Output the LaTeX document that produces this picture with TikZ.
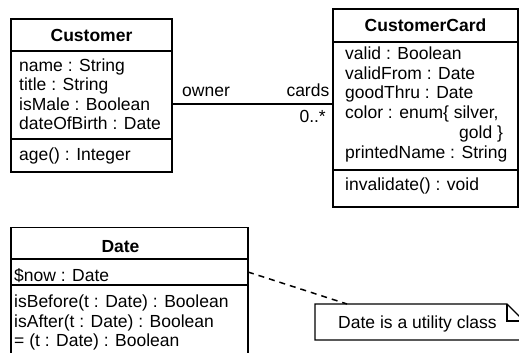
\documentclass[tikz,border=0pt]{standalone}
\usepackage{fontspec}
\setmainfont{Liberation Sans}
\begin{document}
\begin{tikzpicture}[x=1pt,y=-1pt]
\tikzset{
  box/.style={draw, line width=1.5pt, inner sep=0pt, outer sep=0pt, anchor=north west},
  ctitle/.style={font=\fontsize{17.5}{19.6}\selectfont\bfseries, inner sep=0pt, anchor=base},
  txt/.style={font=\fontsize{17.5}{19.6}\selectfont, inner sep=0pt, anchor=base west},
  txtr/.style={font=\fontsize{17.5}{19.6}\selectfont, inner sep=0pt, anchor=base east},
  assoc/.style={line width=1.1pt},
  noteline/.style={line width=1.4pt, line join=miter},
  anchorline/.style={line width=1.5pt, dash pattern=on 6pt off 5pt},
}
\useasboundingbox (0,0) rectangle (519,353);
\clip (0,0) rectangle (519,353);
\fill[white] (0,0) rectangle (519,353);

% Customer
\node[box, minimum width=161pt, minimum height=32pt] (custhead) at (11,19) {};
\node[box, minimum width=161pt, minimum height=88pt] (custattr) at (custhead.south west) {};
\node[box, minimum width=161pt, minimum height=33pt] (custops) at (custattr.south west) {};
\node[ctitle] (custname) at (91.5,41.5) {Customer};
\node[txt] (c1) at (19,71) {name : String};
\node[txt] (c2) at (19,90.6) {title : String};
\node[txt] (c3) at (19,110.2) {isMale : Boolean};
\node[txt] (c4) at (19,129.8) {dateOfBirth : Date};
\node[txt] (c5) at (19,160) {age() : Integer};

% CustomerCard
\node[box, minimum width=185pt, minimum height=33pt] (cardhead) at (333,9) {};
\node[box, minimum width=185pt, minimum height=128pt] (cardattr) at (cardhead.south west) {};
\node[box, minimum width=185pt, minimum height=37pt] (cardops) at (cardattr.south west) {};
\node[ctitle] (cardname) at (425.5,31.7) {CustomerCard};
\node[txt] (k1) at (345,59.4) {valid : Boolean};
\node[txt] (k2) at (345,79) {validFrom : Date};
\node[txt] (k3) at (345,98.7) {goodThru : Date};
\node[txt] (k4) at (345,118.7) {color : enum\{ silver,};
\node[txt] (k5) at (459,138.5) {gold \}};
\node[txt] (k6) at (345,158.5) {printedName : String};
\node[txt] (k7) at (345,190) {invalidate() : void};

% association
\coordinate (assocy) at (0,104);
\draw[assoc] (custattr.east |- assocy) -- (cardattr.west |- assocy);
\node[txt] (owner) at (182,96.7) {owner};
\node[txtr] (cards) at (329.5,96.7) {cards};
\node[txtr] (mult) at (326,122.7) {0..*};

% Date
\node[box, minimum width=237pt, minimum height=31.5pt] (datehead) at (11,227.5) {};
\node[box, minimum width=237pt, minimum height=26pt] (dateattr) at (datehead.south west) {};
\node[box, minimum width=237pt, minimum height=80pt] (dateops) at (dateattr.south west) {};
\node[ctitle] (datename) at (120.5,252.3) {Date};
\node[txt] (d1) at (14,281) {\$now : Date};
\node[txt] (d2) at (14,307) {isBefore(t : Date) : Boolean};
\node[txt] (d3) at (14,327) {isAfter(t : Date) : Boolean};
\node[txt] (d4) at (14,346.5) {= (t : Date) : Boolean};

% note
\node[inner sep=0pt, outer sep=0pt, minimum width=209pt, minimum height=36pt, anchor=north west] (note) at (315,304) {};
\draw[noteline] (note.north west) -- ++(192,0) -- ++(17,17) -- (note.south east) -- (note.south west) -- cycle;
\draw[noteline] (note.north west) ++(192,0) -- ++(0,17) -- ++(17,0);
\node[txt] (notetext) at (338,328) {Date is a utility class};

% note anchor
\coordinate (noteanchor) at (347,304);
\draw[anchorline] (dateattr.east) -- (noteanchor);
\end{tikzpicture}
\end{document}
